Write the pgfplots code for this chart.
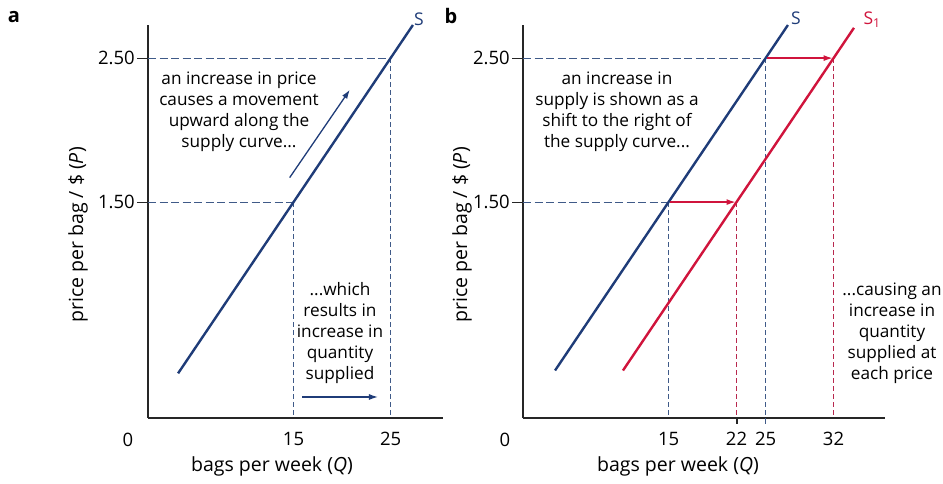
\documentclass[border=0pt]{standalone}
\usepackage{pgfplots}
\pgfplotsset{compat=1.18}
\usetikzlibrary{arrows.meta}
\usepackage{fontspec}
\setmainfont{Open Sans}
\definecolor{sblue}{HTML}{1F3C78}
\definecolor{sred}{HTML}{D0143C}
\definecolor{dblue}{HTML}{3F5A88}
\definecolor{dred}{HTML}{B8284E}
\begin{document}
\begin{tikzpicture}
\useasboundingbox (0pt,0pt) rectangle (943pt,-484pt);
\pgfplotsset{
 econ/.style={
  scale only axis, anchor=south west,
  axis x line*=bottom, axis y line*=left,
  axis line style={line width=1.6pt, black!85},
  ymin=0, ymax=2.73, height=393pt, clip=false,
  ytick={1.5,2.5}, yticklabels={1.50,2.50},
  xtick={15,25},
  major tick length=11pt,
  ytick style={line width=1pt, black!85},
  xtick style={draw=none},
  tick align=outside,
  tick label style={font=\fontsize{18.5}{20}\selectfont, inner sep=0pt},
  yticklabel style={anchor=east, xshift=-2pt},
  xticklabel style={anchor=base, yshift=-16.5pt},
 },
 hguide/.style={line width=1.1pt, dash pattern=on 8pt off 3.5pt, no marks},
 vguide/.style={line width=1.1pt, dash pattern=on 5pt off 3pt, no marks},
 supply/.style={line width=2.4pt, no marks},
}
\tikzset{note/.style={align=center, font=\fontsize{17.2}{21}\selectfont}}

% ---------- panel a ----------
\begin{axis}[econ, at={(148pt,-418pt)}, width=295pt, xmin=0, xmax=30.4,
  xticklabels={15,25}]
\addplot[hguide, dblue] coordinates {(0,2.5) (25,2.5)};
\addplot[vguide, dblue] coordinates {(25,2.5) (25,0)};
\addplot[hguide, dblue] coordinates {(0,1.5) (15,1.5)};
\addplot[vguide, dblue] coordinates {(15,1.5) (15,0)};
\addplot[supply, sblue] coordinates {(3.1,0.31) (27.3,2.73)};
\draw[sblue, line width=1.3pt, -{Latex[length=9pt,width=6pt]}] (axis cs:14.6,1.67) -- (axis cs:20.8,2.28);
\draw[sblue, line width=1.3pt, -{Latex[length=9pt,width=6pt]}] (axis cs:15.9,0.146) -- (axis cs:23.7,0.146);
\end{axis}

% ---------- panel b ----------
\begin{axis}[econ, at={(523pt,-418pt)}, width=362pt, xmin=0, xmax=37.3,
  xtick={15,22,25,32}, xticklabels={15,22,25,32}]
\addplot[hguide, dblue] coordinates {(0,2.5) (25,2.5)};
\addplot[vguide, dblue] coordinates {(25,2.5) (25,0)};
\addplot[hguide, dblue] coordinates {(0,1.5) (15,1.5)};
\addplot[vguide, dblue] coordinates {(15,1.5) (15,0)};
\addplot[vguide, dred] coordinates {(22,1.5) (22,0)};
\addplot[vguide, dred] coordinates {(32,2.5) (32,0)};
\addplot[supply, sblue] coordinates {(3.3,0.33) (27.3,2.73)};
\addplot[supply, sred] coordinates {(10.3,0.33) (34.1,2.71)};
\draw[sred, line width=1.3pt, -{Latex[length=9pt,width=6pt]}] (axis cs:15.1,1.5) -- (axis cs:21.9,1.5);
\draw[sred, line width=1.3pt, -{Latex[length=9pt,width=6pt]}] (axis cs:25.1,2.5) -- (axis cs:31.9,2.5);
\draw[black!85, line width=2pt] (axis cs:22,0) -- ++(0pt,-6pt);
\draw[dblue, line width=1pt] (axis cs:25,0) -- ++(0pt,-6pt);
\end{axis}

% ---------- text ----------
\node[font=\fontsize{20}{22}\selectfont\bfseries] at (14pt,-17pt) {a};
\node[font=\fontsize{20}{22}\selectfont\bfseries] at (451pt,-16pt) {b};
\node[font=\fontsize{17.5}{20}\selectfont, text=sblue] at (419pt,-19pt) {S};
\node[font=\fontsize{17.5}{20}\selectfont, text=sblue] at (796pt,-18.5pt) {S};
\node[font=\fontsize{17.5}{20}\selectfont, text=sred, anchor=west] at (860pt,-20pt) {S\textsubscript{1}};
\node[font=\fontsize{18.5}{20}\selectfont] at (128pt,-440pt) {0};
\node[font=\fontsize{18.5}{20}\selectfont] at (505pt,-440pt) {0};
\node[font=\fontsize{19.5}{22}\selectfont] at (272pt,-466pt) {bags per week (\textit{Q})};
\node[font=\fontsize{19.5}{22}\selectfont] at (678pt,-466pt) {bags per week (\textit{Q})};
\node[font=\fontsize{19.5}{22}\selectfont, rotate=90] at (78pt,-235pt) {price per bag / \$ (\textit{P})};
\node[font=\fontsize{19.5}{22}\selectfont, rotate=90] at (462pt,-235pt) {price per bag / \$ (\textit{P})};
\node[note] at (239pt,-112pt) {an increase in price\\causes a movement\\upward along the\\supply curve...};
\node[note] at (340pt,-333pt) {...which\\results in\\increase in\\quantity\\supplied};
\node[note] at (617pt,-112pt) {an increase in\\supply is shown as a\\shift to the right of\\the supply curve...};
\node[note] at (892pt,-333pt) {...causing an\\increase in\\quantity\\supplied at\\each price};
\end{tikzpicture}
\end{document}
